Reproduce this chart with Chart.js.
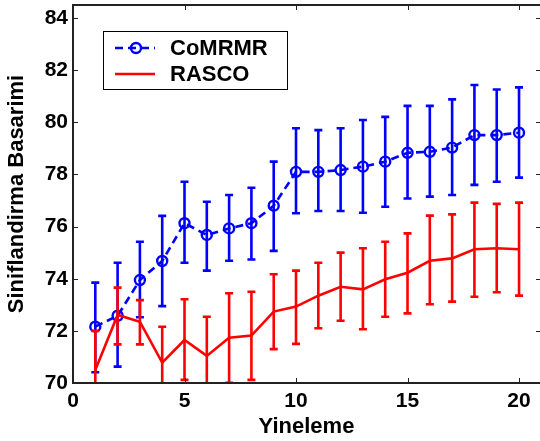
<!DOCTYPE html>
<html>
<head>
<meta charset="utf-8">
<script src="https://cdn.jsdelivr.net/npm/chart.js@4"></script>
<style>
  html, body { margin: 0; padding: 0; background: #fff; overflow: hidden; }
  #wrap { width: 540px; height: 441px; position: relative; }
  #chart { display: block; }
</style>
</head>
<body>
<div id="wrap"><canvas id="chart"></canvas></div>
<script>
// values
const iterations = [1, 2, 3, 4, 5, 6, 7, 8, 9, 10, 11, 12, 13, 14, 15, 16, 17, 18, 19, 20];

const comrmrMean  = [72.16, 72.58, 73.95, 74.68, 76.13, 75.68, 75.93, 76.13, 76.80, 78.10, 78.10, 78.17, 78.30, 78.49, 78.83, 78.87, 79.03, 79.51, 79.51, 79.60];
const comrmrUpper = [73.85, 74.61, 75.42, 76.41, 77.72, 76.95, 77.21, 77.49, 78.49, 79.77, 79.70, 79.77, 80.09, 80.21, 80.63, 80.63, 80.88, 81.43, 81.26, 81.34];
const comrmrLower = [70.41, 70.63, 72.52, 72.95, 74.61, 74.31, 74.69, 74.74, 75.07, 76.51, 76.60, 76.60, 76.53, 76.76, 77.08, 77.15, 77.21, 77.60, 77.72, 77.88];

const rascoMean  = [70.50, 72.61, 72.35, 70.78, 71.65, 71.04, 71.74, 71.82, 72.74, 72.93, 73.35, 73.69, 73.59, 73.98, 74.23, 74.69, 74.78, 75.13, 75.17, 75.13];
const rascoUpper = [72.00, 73.66, 73.18, 72.16, 73.21, 72.54, 73.44, 73.50, 74.17, 74.31, 74.61, 75.00, 75.17, 75.42, 75.74, 76.42, 76.47, 76.92, 76.87, 76.92];
const rascoLower = [69.00, 71.48, 71.48, 69.40, 70.12, 69.50, 70.01, 70.12, 71.30, 71.50, 72.10, 72.39, 72.06, 72.54, 72.67, 73.02, 73.12, 73.31, 73.48, 73.35];

const xTicks = [0, 5, 10, 15, 20];
const yTicks = [70, 72, 74, 76, 78, 80, 82, 84];

const seriesNames = ['CoMRMR', 'RASCO'];
const blue = '#0000ff';
const red = '#ff0000';
const FONT = 'Liberation Sans, Arial, Helvetica, sans-serif';

function points(ys) {
  return iterations.map((x, i) => ({ x: x, y: ys[i] }));
}

// error bars, drawn right after each dataset so the layering stays right
const errorBars = {
  id: 'errorBars',
  afterDatasetDraw(chart, args) {
    const ds = chart.data.datasets[args.index];
    if (!ds.upper) return;
    const { ctx, chartArea } = chart;
    const xs = chart.scales.x, ys = chart.scales.y;
    ctx.save();
    ctx.beginPath();
    ctx.rect(chartArea.left, chartArea.top, chartArea.right - chartArea.left, chartArea.bottom - chartArea.top);
    ctx.clip();
    ctx.strokeStyle = ds.borderColor;
    ctx.lineWidth = 2.6;
    ctx.setLineDash([]);
    ctx.lineCap = 'butt';
    const cap = 4;
    iterations.forEach((it, i) => {
      const px = xs.getPixelForValue(it);
      const top = ys.getPixelForValue(ds.upper[i]);
      const bot = ys.getPixelForValue(ds.lower[i]);
      ctx.beginPath();
      ctx.moveTo(px, top); ctx.lineTo(px, bot);
      ctx.moveTo(px - cap, top); ctx.lineTo(px + cap, top);
      ctx.moveTo(px - cap, bot); ctx.lineTo(px + cap, bot);
      ctx.stroke();
    });
    ctx.restore();
  }
};

// matlab-like box with inward ticks, plus the legend inside the plot
const frame = {
  id: 'frame',
  afterDraw(chart) {
    const { ctx, chartArea } = chart;
    const xs = chart.scales.x, ys = chart.scales.y;
    const { left, top, bottom } = chartArea;
    const right = chartArea.right + 1; // the original box edge sits just past the crop
    ctx.save();
    ctx.strokeStyle = '#222';
    ctx.lineWidth = 1;
    xTicks.forEach(v => {
      const px = Math.round(xs.getPixelForValue(v)) + 0.5;
      ctx.beginPath();
      ctx.moveTo(px, bottom); ctx.lineTo(px, bottom - 5);
      ctx.moveTo(px, top); ctx.lineTo(px, top + 5);
      ctx.stroke();
    });
    yTicks.forEach(v => {
      const py = Math.round(ys.getPixelForValue(v)) + 0.5;
      ctx.beginPath();
      ctx.moveTo(left, py); ctx.lineTo(left + 5, py);
      ctx.moveTo(right, py); ctx.lineTo(right - 5, py);
      ctx.stroke();
    });
    ctx.lineWidth = 2;
    ctx.strokeRect(left, top, right - left, bottom - top);

    // legend
    const bx = 103, by = 31, bw = 184, bh = 58;
    ctx.fillStyle = '#fff';
    ctx.fillRect(bx, by, bw, bh);
    ctx.lineWidth = 1;
    ctx.strokeStyle = '#000';
    ctx.strokeRect(bx + 0.5, by + 0.5, bw, bh);

    const rows = [48, 74];
    chart.data.datasets.forEach((ds, i) => {
      const y = rows[i];
      ctx.strokeStyle = ds.borderColor;
      ctx.lineWidth = ds.borderWidth;
      ctx.setLineDash(ds.borderDash || []);
      ctx.beginPath();
      ctx.moveTo(115, y); ctx.lineTo(155, y);
      ctx.stroke();
      ctx.setLineDash([]);
      if (ds.pointRadius > 0) {
        ctx.lineWidth = ds.pointBorderWidth;
        ctx.beginPath();
        ctx.arc(136, y, ds.pointRadius, 0, Math.PI * 2);
        ctx.stroke();
      }
      ctx.fillStyle = '#000';
      ctx.font = 'bold 22px ' + FONT;
      ctx.textBaseline = 'middle';
      ctx.textAlign = 'left';
      ctx.fillText(ds.label, 170, y + 1);
    });
    ctx.restore();
  }
};

new Chart(document.getElementById('chart'), {
  type: 'line',
  data: {
    datasets: [
      {
        label: seriesNames[0],
        data: points(comrmrMean),
        upper: comrmrUpper,
        lower: comrmrLower,
        borderColor: blue,
        borderWidth: 2.6,
        borderDash: [8, 5],
        pointRadius: 5,
        pointBorderWidth: 2.4,
        pointBorderColor: blue,
        pointBackgroundColor: 'rgba(0,0,0,0)',
        tension: 0,
        order: 1
      },
      {
        label: seriesNames[1],
        data: points(rascoMean),
        upper: rascoUpper,
        lower: rascoLower,
        borderColor: red,
        borderWidth: 2.6,
        pointRadius: 0,
        pointBorderWidth: 0,
        tension: 0,
        order: 0
      }
    ]
  },
  plugins: [errorBars, frame],
  options: {
    responsive: true,
    maintainAspectRatio: false,
    animation: false,
    devicePixelRatio: 1,
    layout: { autoPadding: false, padding: { top: 5, right: 0, bottom: 0, left: 0 } },
    plugins: {
      legend: { display: false },
      tooltip: { enabled: false }
    },
    scales: {
      x: {
        type: 'linear',
        min: 0,
        max: 20.94,
        grid: { display: false, drawTicks: false },
        border: { display: false },
        afterBuildTicks: s => { s.ticks = xTicks.map(v => ({ value: v })); },
        afterFit: s => { s.height = 58; s.paddingLeft = 0; s.paddingRight = 0; },
        ticks: {
          padding: 6,
          color: '#000',
          maxRotation: 0,
          font: { family: FONT, size: 21, weight: 'bold' }
        },
        title: {
          display: true,
          text: 'Yineleme',
          color: '#000',
          padding: { top: 0, bottom: 1 },
          font: { family: FONT, size: 22, weight: 'bold' }
        }
      },
      y: {
        min: 70,
        max: 84.5,
        grid: { display: false, drawTicks: false },
        border: { display: false },
        afterBuildTicks: s => { s.ticks = yTicks.map(v => ({ value: v })); },
        afterFit: s => { s.width = 73; s.paddingTop = 0; s.paddingBottom = 0; },
        ticks: {
          padding: 5,
          color: '#000',
          font: { family: FONT, size: 21, weight: 'bold' }
        },
        title: {
          display: true,
          text: 'Siniflandirma Basarimi',
          color: '#000',
          padding: { top: 4, bottom: 0 },
          font: { family: FONT, size: 22, weight: 'bold' }
        }
      }
    }
  }
});
</script>
</body>
</html>
